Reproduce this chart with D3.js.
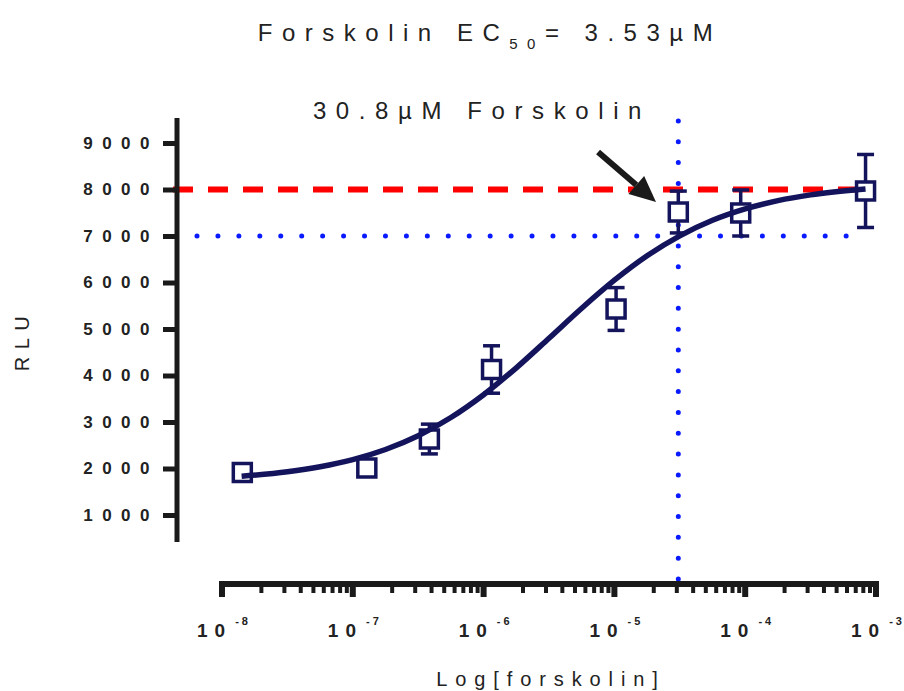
<!DOCTYPE html>
<html>
<head>
<meta charset="utf-8">
<script src="https://cdn.jsdelivr.net/npm/d3@7"></script>
<style>
  body { margin: 0; background: #fff; }
  text { font-family: "Liberation Sans", Arial, sans-serif; fill: #222; }
</style>
</head>
<body>
<div id="chart"></div>
<script>
// forskolin concentrations (M), mean RLU and error
var conc = [1.43e-8, 1.28e-7, 3.85e-7, 1.15e-6, 1.03e-5, 3.08e-5, 9.24e-5, 8.32e-4];
var rlu  = [1914, 2011, 2634, 4129, 5430, 7516, 7495, 7968];
var err  = [60, 60, 320, 510, 460, 450, 495, 785];

// fitted curve (log10 conc, RLU)
var curveLog = [-7.85, -7.5, -7.25, -7, -6.75, -6.5, -6.25, -6, -5.75, -5.5, -5.25, -5, -4.75, -4.5, -4.25, -4, -3.75, -3.5, -3.08];
var curveRlu = [1832, 1929, 2037, 2191, 2409, 2705, 3096, 3586, 4165, 4801, 5446, 6049, 6575, 7004, 7338, 7583, 7760, 7884, 8012];

// reference lines
var maxLine = 8000;      // red dashed
var markRlu = 7000;      // blue dotted horizontal
var markConc = 3.08e-5;  // blue dotted vertical (30.8 uM)

var yTicks = [1000, 2000, 3000, 4000, 5000, 6000, 7000, 8000, 9000];
var xTicks = [1e-8, 1e-7, 1e-6, 1e-5, 1e-4, 1e-3];
var xExp   = ["-8", "-7", "-6", "-5", "-4", "-3"];

var width = 904, height = 691;

var svg = d3.select("#chart")
  .append("svg")
    .attr("width", width)
    .attr("height", height);

var x = d3.scaleLog()
    .domain([1e-8, 1e-3])
    .range([222, 876]);

var y = d3.scaleLinear()
    .domain([1000, 9000])
    .range([515, 143]);

var navy = "#14145c", blue = "#0a1aff";

// titles
svg.append("text")
    .attr("x", 490).attr("y", 41)
    .attr("text-anchor", "middle")
    .style("font-size", "24px")
    .style("letter-spacing", "9.5px")
    .text("Forskolin EC")
  .append("tspan")
    .attr("dy", 8)
    .style("font-size", "15px")
    .text("50")
  .select(function() { return this.parentNode; })
  .append("tspan")
    .attr("dy", -8)
    .text("= 3.53\u00b5M");

svg.append("text")
    .attr("x", 482).attr("y", 119)
    .attr("text-anchor", "middle")
    .style("font-size", "24px")
    .style("letter-spacing", "9.6px")
    .text("30.8\u00b5M Forskolin");

// reference lines
svg.append("line")
    .attr("x1", 173).attr("x2", x(conc[conc.length - 1]) + 7)
    .attr("y1", y(maxLine)).attr("y2", y(maxLine))
    .attr("stroke", "#ff0000").attr("stroke-width", 6)
    .attr("stroke-dasharray", "20,15");

svg.append("line")
    .attr("x1", 197).attr("x2", x(conc[conc.length - 1]))
    .attr("y1", y(markRlu)).attr("y2", y(markRlu))
    .attr("stroke", blue).attr("stroke-width", 5)
    .attr("stroke-linecap", "round")
    .attr("stroke-dasharray", "0,20.94");

svg.append("line")
    .attr("x1", x(markConc)).attr("x2", x(markConc))
    .attr("y1", 579).attr("y2", 119)
    .attr("stroke", blue).attr("stroke-width", 5)
    .attr("stroke-linecap", "round")
    .attr("stroke-dasharray", "0,20.82");

// Y axis
var yAxis = svg.append("g")
    .attr("transform", "translate(177,0)")
    .call(d3.axisLeft(y).tickValues(yTicks).tickFormat(d3.format("d"))
      .tickSize(14).tickPadding(5).tickSizeOuter(0));
yAxis.select(".domain").remove();
yAxis.selectAll(".tick line").attr("stroke", "#1a1a1a").attr("stroke-width", 5);
yAxis.selectAll(".tick text")
    .attr("x", -18)
    .attr("fill", "#222")
    .style("font-size", "17px")
    .style("font-weight", "bold")
    .style("letter-spacing", "9.5px")
    .style("font-family", "'Liberation Sans', Arial, sans-serif");
yAxis.append("line")
    .attr("x1", 0).attr("x2", 0)
    .attr("y1", y(9540)).attr("y2", y(420))
    .attr("stroke", "#1a1a1a").attr("stroke-width", 5);

// X axis with minor ticks
var minor = [];
xTicks.slice(0, -1).forEach(function(t) {
  for (var k = 2; k <= 9; k++) minor.push(t * k);
});
var xg = svg.append("g").attr("transform", "translate(0,584)");
xg.append("line")
    .attr("x1", x(1e-8) - 3).attr("x2", x(1e-3) + 3)
    .attr("stroke", "#1a1a1a").attr("stroke-width", 6);
xg.selectAll(".minor").data(minor).enter().append("line")
    .attr("x1", function(d) { return x(d); })
    .attr("x2", function(d) { return x(d); })
    .attr("y1", 0).attr("y2", 9)
    .attr("stroke", "#1a1a1a").attr("stroke-width", 4);
xg.selectAll(".major").data(xTicks).enter().append("line")
    .attr("x1", function(d) { return x(d); })
    .attr("x2", function(d) { return x(d); })
    .attr("y1", 0).attr("y2", 13)
    .attr("stroke", "#1a1a1a").attr("stroke-width", 6);
var xl = xg.selectAll(".lab").data(xTicks).enter().append("text")
    .attr("x", function(d) { return x(d) + 2; })
    .attr("y", 53)
    .attr("text-anchor", "middle")
    .style("font-size", "19px")
    .style("font-weight", "bold");
xl.append("tspan")
    .style("letter-spacing", "7px")
    .text("10");
xl.append("tspan")
    .attr("dx", 3).attr("dy", -12)
    .style("font-size", "11px")
    .style("letter-spacing", "3px")
    .text(function(d, i) { return xExp[i]; });

// axis titles
svg.append("text")
    .attr("x", 551).attr("y", 686)
    .attr("text-anchor", "middle")
    .style("font-size", "20px")
    .style("letter-spacing", "7.9px")
    .text("Log[forskolin]");

svg.append("text")
    .attr("transform", "translate(29,340) rotate(-90)")
    .attr("text-anchor", "middle")
    .style("font-size", "20px")
    .style("letter-spacing", "7.5px")
    .text("RLU");

// error bars
var pts = conc.map(function(c, i) { return {c: c, v: rlu[i], e: err[i]}; });
var eb = svg.append("g").attr("stroke", navy).attr("stroke-width", 3.5);
eb.selectAll(".stem").data(pts).enter().append("line")
    .attr("x1", function(d) { return x(d.c); })
    .attr("x2", function(d) { return x(d.c); })
    .attr("y1", function(d) { return y(d.v + d.e); })
    .attr("y2", function(d) { return y(d.v - d.e); });
eb.selectAll(".capT").data(pts).enter().append("line")
    .attr("x1", function(d) { return x(d.c) - 8.5; })
    .attr("x2", function(d) { return x(d.c) + 8.5; })
    .attr("y1", function(d) { return y(d.v + d.e); })
    .attr("y2", function(d) { return y(d.v + d.e); });
eb.selectAll(".capB").data(pts).enter().append("line")
    .attr("x1", function(d) { return x(d.c) - 8.5; })
    .attr("x2", function(d) { return x(d.c) + 8.5; })
    .attr("y1", function(d) { return y(d.v - d.e); })
    .attr("y2", function(d) { return y(d.v - d.e); });

// squares
svg.selectAll(".pt").data(pts).enter().append("rect")
    .attr("x", function(d) { return x(d.c) - 9; })
    .attr("y", function(d) { return y(d.v) - 9; })
    .attr("width", 18).attr("height", 18)
    .attr("fill", "#fff")
    .attr("stroke", navy).attr("stroke-width", 3.5);

// fitted curve
var line = d3.line()
    .x(function(d, i) { return x(Math.pow(10, d)); })
    .y(function(d, i) { return y(curveRlu[i]); })
    .curve(d3.curveMonotoneX);
svg.append("path")
    .attr("d", line(curveLog))
    .attr("fill", "none")
    .attr("stroke", navy).attr("stroke-width", 5.5);

// arrow pointing at the 30.8 uM point
var arrowFrom = [7.5e-6, 8806], arrowTo = [2.08e-5, 7731];
var ax1 = x(arrowFrom[0]), ay1 = y(arrowFrom[1]);
var ax2 = x(arrowTo[0]), ay2 = y(arrowTo[1]);
var ang = Math.atan2(ay2 - ay1, ax2 - ax1);
var hl = 26, hw = 12;
var bx = ax2 - hl * Math.cos(ang), by = ay2 - hl * Math.sin(ang);
svg.append("line")
    .attr("x1", ax1).attr("y1", ay1)
    .attr("x2", bx).attr("y2", by)
    .attr("stroke", "#1a1a1a").attr("stroke-width", 6);
svg.append("path")
    .attr("d", "M" + ax2 + "," + ay2 +
               "L" + (bx + hw * Math.sin(ang)) + "," + (by - hw * Math.cos(ang)) +
               "L" + (bx - hw * Math.sin(ang)) + "," + (by + hw * Math.cos(ang)) + "Z")
    .attr("fill", "#1a1a1a");
</script>
</body>
</html>
